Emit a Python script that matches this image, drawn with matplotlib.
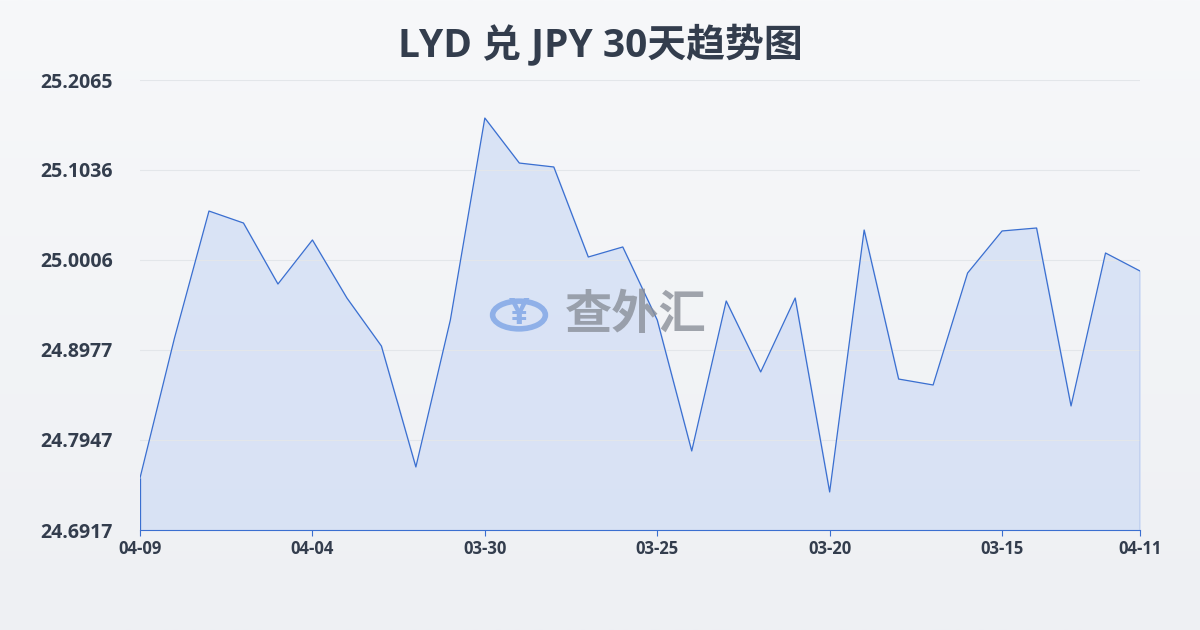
import matplotlib
matplotlib.use("Agg")
import matplotlib.pyplot as plt
import numpy as np

plt.rcParams['font.family'] = ['Open Sans', 'Noto Sans CJK SC', 'DejaVu Sans']

ypix = [478,338,211,223,284,240,298,346,467,320,118,163,167,257,247,320,451,301,372,298,492,230,379,385,273,231,228,406,253,271]
values = [round(25.2065 - (p-80)*0.5148/450, 4) for p in ypix]
tick_idx = [0,5,10,15,20,25,29]
tick_labels = ['04-09','04-04','03-30','03-25','03-20','03-15','04-11']
yticks = [24.6917, 24.7947, 24.8977, 25.0006, 25.1036, 25.2065]
title = 'LYD 兑 JPY 30天趋势图'

fig = plt.figure(figsize=(12, 6.3), dpi=100)
bg = fig.add_axes([0,0,1,1], zorder=-10)
grad = np.linspace(0,1,256).reshape(-1,1)
bg.imshow(grad, cmap=matplotlib.colors.LinearSegmentedColormap.from_list('g',['#f7f8fa','#eef0f3']), aspect='auto', extent=[0,1,0,1])
bg.axis('off')

ax = fig.add_axes([140/1200, 1-530/630, 1000/1200, 450/630])
ax.patch.set_alpha(0)
x = np.arange(len(values))
ax.fill_between(x, values, yticks[0], color='#d5e0f5', alpha=0.85)
ax.plot(x, values, color='#3a6fd0', lw=0.9)
ax.set_xlim(0, len(values)-1)
ax.set_ylim(yticks[0], yticks[-1])
ax.set_yticks(yticks)
ax.set_yticklabels([f'{v:.4f}' for v in yticks], fontsize=14, color='#333d4d', fontweight='bold')
ax.set_xticks(tick_idx)
ax.set_xticklabels(tick_labels, fontsize=12, color='#333d4d', fontweight='bold')
ax.grid(axis='y', color='#e3e6ea', lw=0.8)
ax.vlines([x[0], x[-1]], yticks[0], [values[0], values[-1]], color='#3a6fd0', lw=0.9)
for s in ['top','right','left']:
    ax.spines[s].set_visible(False)
ax.spines['bottom'].set_color('#3a6fd0')
ax.tick_params(axis='y', length=0, pad=72)
for lab in ax.get_yticklabels():
    lab.set_horizontalalignment('left')
ax.tick_params(axis='x', length=4, color='#3a6fd0')

fig.text(0.5, 1-45/630, title, ha='center', va='center', fontsize=28, fontweight='bold', color='#333d4d')
fig.text(519/1200, 1-315/630, '¥', ha='center', va='center', fontsize=26, color='#8fb0e8', fontweight='bold')
fig.patches.append(matplotlib.patches.Circle((519/1200, 1-315/630), 0.022, transform=fig.transFigure, fill=False, ec='#8fb0e8', lw=4))
fig.text(636/1200, 1-315/630, '查外汇', ha='center', va='center', fontsize=34, color='#8a8f99', fontweight='bold', alpha=0.8, family=['Noto Sans CJK SC'])
fig.savefig('out.png', dpi=100)
